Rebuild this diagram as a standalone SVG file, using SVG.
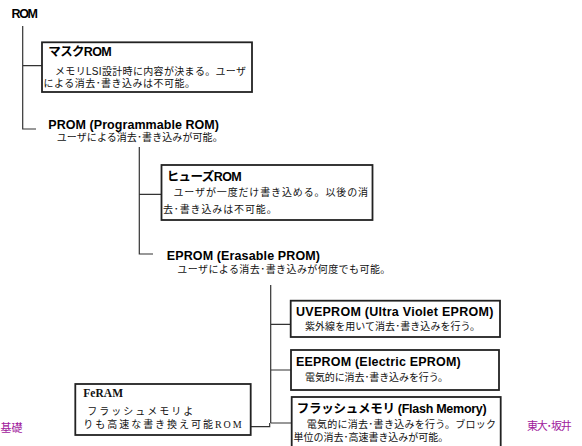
<svg xmlns="http://www.w3.org/2000/svg" width="582" height="446" viewBox="0 0 582 446">
<style>
.t{font-family:"Liberation Sans","Noto Sans CJK JP",sans-serif;font-weight:bold;font-size:12.5px;fill:#000}
.b{font-family:"Liberation Sans","Noto Sans CJK JP",sans-serif;font-size:10px;fill:#111}
.box{fill:#fff;stroke:#222;stroke-width:1.8}
.c{fill:none;stroke:#333;stroke-width:1.2}
.s{font-family:"Liberation Serif","Noto Sans CJK JP",serif;fill:#111}
.p{font-family:"Liberation Sans","Noto Sans CJK JP",sans-serif;font-size:11px;fill:#a0209c}
</style>
<rect width="582" height="446" fill="#fff"/>
<g id="connectors">
<path class="c" d="M22.7,26 V129 H36 M22.7,65.7 H42"/>
<path class="c" d="M139.3,147 V254 H153 M139.3,194.3 H161"/>
<path class="c" d="M270.7,285 V423 M270.7,324.3 H291 M270.7,370 H291 M270.7,423 H292"/>
<path class="c" d="M251,426.7 H269.7 V423"/>
</g>
<g id="rom">
<text class="t" x="11.5" y="17.5" textLength="26.5">ROM</text>
</g>
<g id="mask-rom">
<rect class="box" x="42" y="42.3" width="210" height="49.7"/>
<text class="t" x="48.3" y="55.5" textLength="63.4">マスクROM</text>
<text class="b" x="55" y="75" textLength="191">メモリLSI設計時に内容が決まる。ユーザ</text>
<text class="b" x="43.5" y="87.3" textLength="151.5">による消去･書き込みは不可能。</text>
</g>
<g id="prom">
<text class="t" x="48.3" y="128.7" textLength="170.7">PROM (Programmable ROM)</text>
<text class="b" x="56.7" y="141" textLength="166">ユーザによる消去･書き込みが可能。</text>
</g>
<g id="fuse-rom">
<rect class="box" x="161.5" y="165" width="211" height="55"/>
<text class="t" x="166.7" y="180.7" textLength="75">ヒューズROM</text>
<text class="b" x="173.5" y="196.3" textLength="194.5">ユーザが一度だけ書き込める。以後の消</text>
<text class="b" x="163" y="213" textLength="113.7">去･書き込みは不可能。</text>
</g>
<g id="eprom">
<text class="t" x="166.7" y="260" textLength="153.3">EPROM (Erasable PROM)</text>
<text class="b" x="177.3" y="273.3" textLength="213">ユーザによる消去･書き込みが何度でも可能。</text>
</g>
<g id="uveprom">
<rect class="box" x="290.7" y="300.7" width="209.3" height="36.3"/>
<text class="t" x="296" y="316" textLength="197.3">UVEPROM (Ultra Violet EPROM)</text>
<text class="b" x="305" y="330" textLength="175">紫外線を用いて消去･書き込みを行う。</text>
</g>
<g id="eeprom">
<rect class="box" x="291" y="350" width="208" height="40"/>
<text class="t" x="296" y="366" textLength="164.7">EEPROM (Electric EPROM)</text>
<text class="b" x="305" y="380.7" textLength="143">電気的に消去･書き込みを行う。</text>
</g>
<g id="flash">
<rect class="box" x="291.7" y="397" width="209" height="60"/>
<text class="t" x="296.7" y="413.3" textLength="190">フラッシュメモリ (Flash Memory)</text>
<text class="b" x="306.7" y="428.3" textLength="189.3">電気的に消去･書き込みを行う。ブロック</text>
<text class="b" x="293.5" y="440.7" textLength="154.8">単位の消去･高速書き込みが可能。</text>
</g>
<g id="feram">
<rect class="box" x="75.3" y="384" width="175.4" height="51"/>
<text class="s" x="83.3" y="397" font-size="11.5" font-weight="bold" textLength="39.7">FeRAM</text>
<text class="b" x="87.3" y="415" font-size="12" textLength="106">フラッシュメモリよ</text>
<text class="b" x="83.3" y="427.5" font-size="12" textLength="158.4">りも高速な書き換え可能<tspan class="s">ROM</tspan></text>
</g>
<g id="footer">
<text class="p" x="0.5" y="432">基礎</text>
<text class="p" x="527" y="429.5" textLength="44.7">東大･坂井</text>
</g>
</svg>
